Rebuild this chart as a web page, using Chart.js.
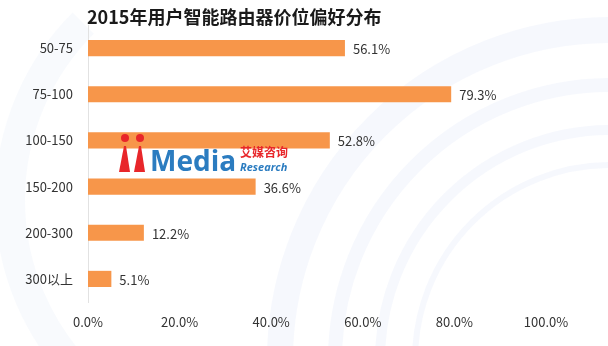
<!DOCTYPE html>
<html>
<head>
<meta charset="utf-8">
<script src="https://cdn.jsdelivr.net/npm/chart.js@4/dist/chart.umd.min.js"></script>
<style>
  html, body { margin: 0; padding: 0; background: #ffffff; }
  #wrap { position: relative; width: 608px; height: 346px; }
  canvas { display: block; }
</style>
</head>
<body>
<div id="wrap"><canvas id="c" width="608" height="346"></canvas></div>
<script>
// Price bands (RMB) and share of users preferring each band
const chartTitle = '2015年用户智能路由器价位偏好分布';
const categories = ['50-75', '75-100', '100-150', '150-200', '200-300', '300以上'];
const shares = [56.1, 79.3, 52.8, 36.6, 12.2, 5.1];
const xTicks = [0, 20, 40, 60, 80, 100];

const FONT = '"Noto Sans CJK SC", "Noto Sans", sans-serif';
const TEXT = '#333333';
const BAR = '#F7964A';

// faint decorative rings behind the plot
const backdrop = {
  id: 'backdrop',
  beforeDraw(chart) {
    const ctx = chart.ctx;
    ctx.save();
    ctx.fillStyle = '#ffffff';
    ctx.fillRect(0, 0, chart.width, chart.height);
    ctx.strokeStyle = 'rgba(228, 236, 248, 0.35)';
    ctx.lineCap = 'butt';
    const rings = [[330, 26], [275, 14], [230, 10], [195, 6]];
    rings.forEach(([r, w]) => {
      ctx.lineWidth = w;
      ctx.beginPath();
      ctx.arc(610, 360, r, Math.PI * 1.0, Math.PI * 1.5);
      ctx.stroke();
    });
    ctx.lineWidth = 30;
    ctx.strokeStyle = 'rgba(232, 238, 248, 0.3)';
    ctx.beginPath();
    ctx.arc(260, 200, 250, Math.PI * 0.75, Math.PI * 1.25);
    ctx.stroke();
    ctx.restore();
  }
};

// chart heading
const heading = {
  id: 'heading',
  afterDraw(chart) {
    const ctx = chart.ctx;
    ctx.save();
    ctx.font = 'bold 18px ' + FONT;
    ctx.fillStyle = '#1a1a1a';
    ctx.textAlign = 'left';
    ctx.textBaseline = 'middle';
    ctx.fillText(chartTitle, 87, 17);
    ctx.restore();
  }
};

// value labels at the end of each bar
const valueLabels = {
  id: 'valueLabels',
  afterDatasetsDraw(chart) {
    const ctx = chart.ctx;
    const meta = chart.getDatasetMeta(0);
    ctx.save();
    ctx.font = '13px ' + FONT;
    ctx.fillStyle = TEXT;
    ctx.textAlign = 'left';
    ctx.textBaseline = 'middle';
    meta.data.forEach((bar, i) => {
      ctx.fillText(shares[i].toFixed(1) + '%', bar.x + 8, bar.y + 1);
    });
    ctx.restore();
  }
};

// publisher mark over the plot
const brandMark = {
  id: 'brandMark',
  afterDatasetsDraw(chart) {
    const ctx = chart.ctx;
    ctx.save();
    ctx.fillStyle = '#E8262A';
    [125, 140].forEach(cx => {
      ctx.beginPath();
      ctx.arc(cx, 138, 4, 0, Math.PI * 2);
      ctx.fill();
      ctx.beginPath();
      ctx.moveTo(cx - 1, 146);
      ctx.lineTo(cx + 1, 146);
      ctx.lineTo(cx + 5, 172);
      ctx.lineTo(cx - 6, 172);
      ctx.closePath();
      ctx.fill();
    });
    ctx.fillStyle = '#2B7CC0';
    ctx.font = 'bold 28px "Open Sans", "DejaVu Sans", sans-serif';
    ctx.textBaseline = 'alphabetic';
    ctx.textAlign = 'left';
    ctx.fillText('Media', 150, 171);
    ctx.fillStyle = '#E8262A';
    ctx.font = 'bold 12px ' + FONT;
    ctx.fillText('艾媒咨询', 240, 157);
    ctx.fillStyle = '#2B7CC0';
    ctx.font = 'italic bold 11px "Open Sans", sans-serif';
    ctx.fillText('Research', 240, 171);
    ctx.restore();
  }
};

new Chart(document.getElementById('c'), {
  type: 'bar',
  data: {
    labels: categories,
    datasets: [{
      data: shares,
      backgroundColor: BAR,
      borderWidth: 0,
      categoryPercentage: 0.7,
      barPercentage: 0.5
    }]
  },
  options: {
    indexAxis: 'y',
    responsive: false,
    animation: false,
    devicePixelRatio: 1,
    layout: { padding: { top: 25, right: 62, bottom: 0, left: 0 } },
    plugins: {
      legend: { display: false },
      tooltip: { enabled: false },
      title: { display: false }
    },
    scales: {
      x: {
        min: 0,
        max: 100,
        afterBuildTicks(scale) {
          scale.ticks = xTicks.map(v => ({ value: v }));
        },
        afterFit(scale) { scale.height = 44; },
        grid: { display: false, drawTicks: false },
        border: { display: false },
        ticks: {
          padding: 12,
          color: TEXT,
          font: { family: FONT, size: 13 },
          callback: v => Number(v).toFixed(1) + '%'
        }
      },
      y: {
        afterFit(scale) { scale.width = 88; },
        grid: { display: false, drawTicks: false },
        border: { display: true, color: '#e2e2e2', width: 1 },
        ticks: {
          padding: 15,
          color: TEXT,
          font: { family: FONT, size: 13 }
        }
      }
    }
  },
  plugins: [backdrop, valueLabels, brandMark, heading]
});
</script>
</body>
</html>
